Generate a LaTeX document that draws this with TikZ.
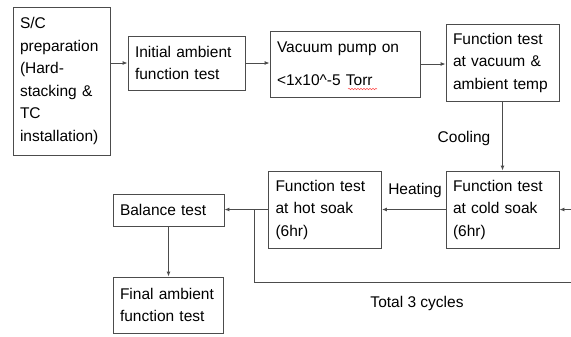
\documentclass[tikz,border=0pt]{standalone}
\usepackage{fontspec}
\setmainfont{Liberation Sans}
\usetikzlibrary{arrows.meta,decorations.pathmorphing}
\begin{document}
\begin{tikzpicture}[x=1bp,y=-1bp,
  box/.style={draw=black!70, line width=0.9bp, align=left, inner xsep=7bp, inner ysep=0bp,
    text=black, font=\fontsize{15.5bp}{22.5bp}\selectfont},
  lbl/.style={text=black, font=\fontsize{15.5bp}{22.5bp}\selectfont, inner sep=0bp},
  conn/.style={draw=black!70, line width=0.9bp, -{Latex[length=5bp,width=4bp]}},
  plain/.style={draw=black!70, line width=0.9bp}]
\useasboundingbox (0,0) rectangle (571,336);
\node[box, text width=83bp, minimum height=148bp] (sc) at (61.5,81) {S/C\\preparation\\(Hard-\\stacking \&\\TC\\installation)};
\node[box, text width=103bp, minimum height=54bp] (ia) at (186.5,63) {Initial ambient\\function test};
\node[box, text width=136bp, minimum height=66bp, font=\fontsize{15.5bp}{33bp}\selectfont] (vac) at (345,64) {Vacuum pump on\\\textless1x10\textasciicircum-5 Torr};
\node[box, text width=99bp, minimum height=77bp] (fv) at (502.5,62.5) {Function test\\at vacuum \&\\ambient temp};
\node[box, text width=99bp, minimum height=77bp] (cold) at (502.5,209.5) {Function test\\at cold soak\\(6hr)};
\node[box, text width=99bp, minimum height=77bp] (hot) at (325,209.5) {Function test\\at hot soak\\(6hr)};
\node[box, text width=97bp, minimum height=32bp] (bal) at (168.5,210) {Balance test};
\node[box, text width=96bp, minimum height=56bp] (fin) at (168,305) {Final ambient\\function test};
\draw[red!70, line width=0.5bp, decorate, decoration={snake, amplitude=0.7bp, segment length=3bp}] (348,89) -- (377,89);
\draw[conn] (sc.east |- ia) -- (ia);
\draw[conn] (ia) -- (ia -| vac.west);
\draw[conn] (vac) -- (vac -| fv.west);
\draw[conn] (fv.south) -- (fv.south |- cold.north);
\draw[conn] (cold) -- (cold -| hot.east);
\draw[conn] (hot) -- (hot -| bal.east);
\draw[conn] (bal.south) -- (bal.south |- fin.north);
\coordinate (lp) at (254,210);
\coordinate (lb) at (254,282);
\coordinate (rb) at (600,282);
\coordinate (rt) at (600,209.5);
\draw[plain] (lp) -- (lb) -- (rb) -- (rt);
\draw[conn] (rt) -- (cold.east);
\node[lbl] (cool) at (464,138) {Cooling};
\node[lbl] (heat) at (415,190) {Heating};
\node[lbl] (tot) at (417,303) {Total 3 cycles};
\end{tikzpicture}
\end{document}
